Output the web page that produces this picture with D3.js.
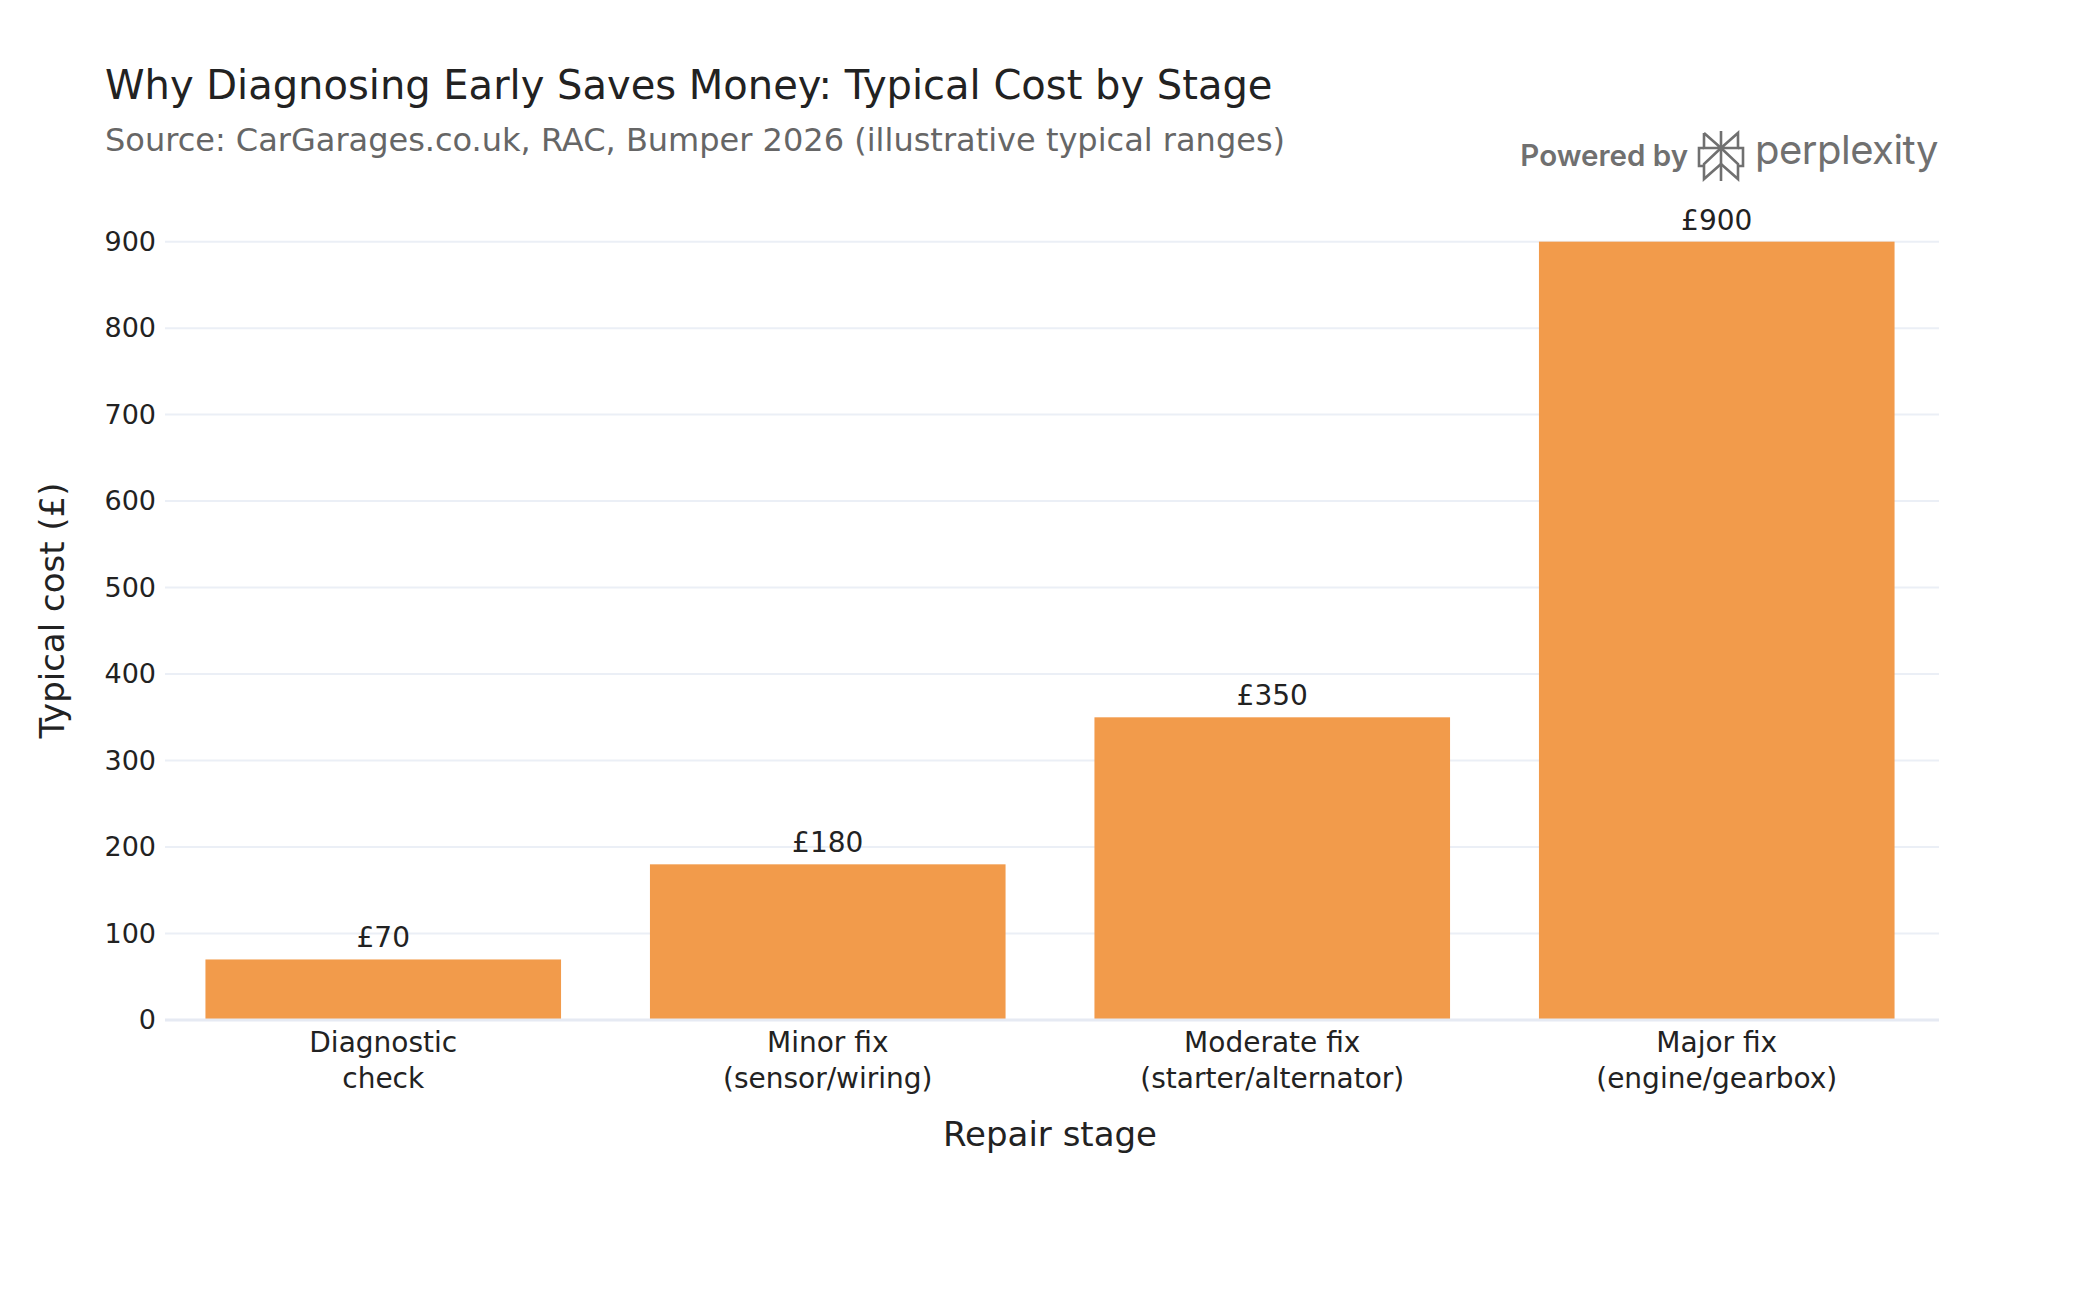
<!DOCTYPE html>
<html>
<head>
<meta charset="utf-8">
<script src="https://cdn.jsdelivr.net/npm/d3@7"></script>
<style>
  html, body { margin: 0; padding: 0; background: #fff; }
  svg text { font-family: "DejaVu Sans", sans-serif; }
</style>
</head>
<body>
<div id="chart"></div>
<script>
// chart data
const stages = [
    ["Diagnostic", "check"],
    ["Minor fix", "(sensor/wiring)"],
    ["Moderate fix", "(starter/alternator)"],
    ["Major fix", "(engine/gearbox)"]
];
const costs = [70, 180, 350, 900];
const yTicks = [0, 100, 200, 300, 400, 500, 600, 700, 800, 900];

const width = 2100, height = 1300;
const margin = {top: 201, right: 161, bottom: 280, left: 161};
const innerW = width - margin.left - margin.right;
const innerH = height - margin.top - margin.bottom;

const svg = d3.select("#chart").append("svg")
    .attr("width", width)
    .attr("height", height);

const data = costs.map((c, i) => ({key: i, label: stages[i], value: c}));

// plotly-style bands: each category gets an equal slot, bar fills 80% of it
const x = d3.scaleBand()
    .domain(data.map(d => d.key))
    .range([0, innerW])
    .paddingInner(0.2)
    .paddingOuter(0.1);

const y = d3.scaleLinear()
    .domain([0, 947])
    .range([innerH, 0]);

const chart = svg.append("g")
    .attr("transform", `translate(${margin.left},${margin.top})`);

// gridlines
chart.append("g")
    .selectAll("line")
    .data(yTicks.filter(t => t > 0))
    .join("line")
    .attr("x1", 4).attr("x2", innerW)
    .attr("y1", d => y(d)).attr("y2", d => y(d))
    .attr("stroke", "#ebeff6")
    .attr("stroke-width", 2);

// y axis tick labels
const yAxis = chart.append("g")
    .call(d3.axisLeft(y).tickValues(yTicks).tickSize(0).tickPadding(5));
yAxis.select(".domain").remove();
yAxis.selectAll("text")
    .attr("font-size", 27)
    .attr("fill", "#222")
    .style("font-family", "DejaVu Sans");

// bars
chart.append("g")
    .selectAll("rect")
    .data(data)
    .join("rect")
    .attr("x", d => x(d.key))
    .attr("width", x.bandwidth())
    .attr("y", d => y(d.value))
    .attr("height", d => y(0) - y(d.value))
    .attr("fill", "#f29b4b");

// zero line
chart.append("line")
    .attr("x1", 4).attr("x2", innerW)
    .attr("y1", y(0)).attr("y2", y(0))
    .attr("stroke", "#e6eaf3")
    .attr("stroke-width", 3);

// value labels
chart.append("g")
    .selectAll("text")
    .data(data)
    .join("text")
    .attr("x", d => x(d.key) + x.bandwidth() / 2)
    .attr("y", d => y(d.value) - 12)
    .attr("text-anchor", "middle")
    .attr("font-size", 28)
    .attr("fill", "#222")
    .text(d => `£${d.value}`);

// x category labels
const xAxis = chart.append("g")
    .attr("transform", `translate(0,${innerH})`);
xAxis.selectAll("text")
    .data(data)
    .join("text")
    .attr("text-anchor", "middle")
    .attr("font-size", 28)
    .attr("fill", "#222")
    .attr("x", d => x(d.key) + x.bandwidth() / 2)
    .attr("y", 32)
    .each(function(d) {
        const t = d3.select(this);
        d.label.forEach((line, i) => {
            t.append("tspan")
                .attr("x", x(d.key) + x.bandwidth() / 2)
                .attr("dy", i === 0 ? 0 : 36)
                .text(line);
        });
    });

// axis titles
svg.append("text")
    .attr("x", margin.left + innerW / 2)
    .attr("y", 1146)
    .attr("text-anchor", "middle")
    .attr("font-size", 34)
    .attr("fill", "#222")
    .text("Repair stage");

svg.append("text")
    .attr("transform", `translate(64,${margin.top + innerH / 2}) rotate(-90)`)
    .attr("text-anchor", "middle")
    .attr("font-size", 34)
    .attr("fill", "#222")
    .text("Typical cost (£)");

// title + subtitle
svg.append("text")
    .attr("x", 105).attr("y", 99)
    .attr("font-size", 40)
    .attr("fill", "#222")
    .text("Why Diagnosing Early Saves Money: Typical Cost by Stage");

svg.append("text")
    .attr("x", 105).attr("y", 151)
    .attr("font-size", 32)
    .attr("fill", "#666")
    .text("Source: CarGarages.co.uk, RAC, Bumper 2026 (illustrative typical ranges)");

// Powered by perplexity badge
const badge = svg.append("g").attr("fill", "#707070");
badge.append("text")
    .attr("x", 1688).attr("y", 166)
    .attr("text-anchor", "end")
    .attr("font-size", 29.5)
    .attr("font-weight", 600)
    .style("font-family", "Inter, 'Open Sans', sans-serif")
    .text("Powered by");

const icon = badge.append("g")
    .attr("transform", "translate(1698,131)")
    .attr("fill", "none")
    .attr("stroke", "#707070")
    .attr("stroke-width", 2.6)
    .attr("stroke-linejoin", "miter");
icon.append("path").attr("d", "M23,0 V50");
icon.append("path").attr("d", "M6,2 L23,17 L40,2 V17 H6 V2");
icon.append("path").attr("d", "M6,17 L1,17 V35 H6 M40,17 H45 V35 H40");
icon.append("path").attr("d", "M23,17 L6,33 V48 L23,33 L40,48 V33 L23,17");

badge.append("text")
    .attr("x", 1755).attr("y", 164)
    .attr("font-size", 40)
    .style("font-family", "Inter, 'Open Sans', sans-serif")
    .attr("letter-spacing", -0.5)
    .text("perplexity");
</script>
</body>
</html>
